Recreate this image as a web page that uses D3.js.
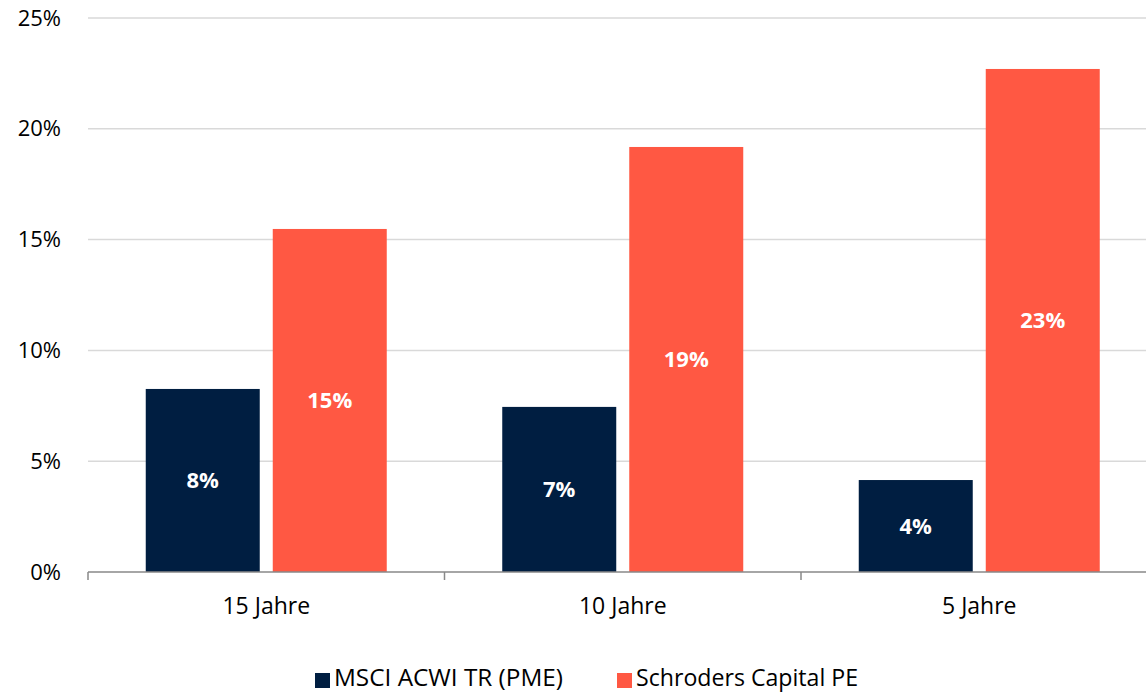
<!DOCTYPE html>
<html><head><meta charset="utf-8">
<script src="https://cdn.jsdelivr.net/npm/d3@7"></script>
<style>body{margin:0;background:#fff}svg{display:block;font-family:"Open Sans",sans-serif}</style>
</head><body>
<svg id="c" width="1146" height="692"></svg>
<script>
const categories = ["15 Jahre", "10 Jahre", "5 Jahre"];
const seriesNames = ["MSCI ACWI TR (PME)", "Schroders Capital PE"];
const msci = [8.26, 7.45, 4.15];
const schroders = [15.48, 19.18, 22.7];
const labelsMsci = ["8%", "7%", "4%"];
const labelsSchroders = ["15%", "19%", "23%"];
const yTicks = [0, 5, 10, 15, 20, 25];
const colors = ["#001E41", "#FF5843"];

const svg = d3.select("#c");
const x = d3.scaleBand().domain(categories).range([88, 1157.5]).paddingInner(0).paddingOuter(0);
const y = d3.scaleLinear().domain([0, 25]).range([572, 18]);
const inner = d3.scaleBand().domain([0, 1]).range([0, x.bandwidth()]).paddingInner(0.1024).paddingOuter(0.4547);

// gridlines
svg.append("g").selectAll("line").data(yTicks.filter(d => d > 0)).join("line")
  .attr("x1", 88).attr("x2", 1146).attr("y1", d => y(d)).attr("y2", d => y(d))
  .attr("stroke", "#d9d9d9").attr("stroke-width", 1.5);

// y axis labels
const yAxis = d3.axisLeft(y).tickValues(yTicks).tickFormat(d => d + "%").tickSize(0).tickPadding(27);
const ya = svg.append("g").attr("transform", "translate(88,0)").call(yAxis);
ya.select(".domain").remove();
ya.selectAll("text").attr("font-size", 22).attr("fill", "#000").attr("font-family", "Open Sans, sans-serif");

const series = [msci, schroders];
const labels = [labelsMsci, labelsSchroders];
series.forEach((vals, si) => {
  const g = svg.append("g");
  g.selectAll("rect").data(vals).join("rect")
    .attr("x", (d, i) => x(categories[i]) + inner(si))
    .attr("width", inner.bandwidth())
    .attr("y", d => y(d)).attr("height", d => y(0) - y(d))
    .attr("fill", colors[si]);
  g.selectAll("text").data(vals).join("text")
    .attr("x", (d, i) => x(categories[i]) + inner(si) + inner.bandwidth() / 2)
    .attr("y", d => (y(d) + y(0)) / 2)
    .attr("dy", "0.36em").attr("text-anchor", "middle")
    .attr("font-size", 22).attr("font-weight", "bold").attr("fill", "#fff")
    .text((d, i) => labels[si][i]);
});

// x axis
const xAxis = d3.axisBottom(x).tickSize(0).tickPadding(26);
const xa = svg.append("g").attr("transform", "translate(0,572)").call(xAxis);
xa.select(".domain").attr("stroke", "#898989").attr("stroke-width", 1.5).attr("d", "M88,0H1146");
xa.selectAll("text").attr("font-size", 23).attr("fill", "#000").attr("font-family", "Open Sans, sans-serif");
svg.append("g").selectAll("line").data(categories).join("line")
  .attr("x1", d => x(d)).attr("x2", d => x(d)).attr("y1", 572).attr("y2", 580)
  .attr("stroke", "#898989").attr("stroke-width", 1.5);

// legend
const legX = [315, 617];
const lg = svg.append("g");
seriesNames.forEach((n, i) => {
  lg.append("rect").attr("x", legX[i]).attr("y", 673).attr("width", 15).attr("height", 15).attr("fill", colors[i]);
  lg.append("text").attr("x", legX[i] + 19).attr("y", 686)
    .attr("font-size", 24).attr("textLength", i === 0 ? 229 : 222).attr("lengthAdjust", "spacingAndGlyphs")
    .attr("fill", "#000").text(n);
});
</script>
</body></html>
